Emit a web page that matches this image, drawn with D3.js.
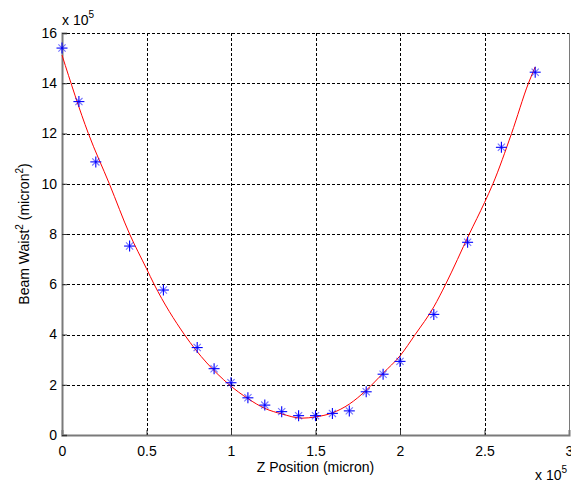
<!DOCTYPE html>
<html>
<head>
<meta charset="utf-8">
<script src="https://cdn.jsdelivr.net/npm/d3@7"></script>
<style>
  html, body { margin: 0; padding: 0; background: #fff; }
  svg { display: block; font-family: "Liberation Sans", Arial, Helvetica, sans-serif; }
</style>
</head>
<body>
<svg id="chart" width="571" height="483"></svg>
<script>
// Measured data (Z in units of 1e5 micron, waist^2 in units of 1e5 micron^2)
const zPos = [0, 0.1, 0.2, 0.4, 0.6, 0.8, 0.9, 1.0, 1.1, 1.2, 1.3, 1.4, 1.5, 1.6, 1.7, 1.8, 1.9, 2.0, 2.2, 2.4, 2.6, 2.8];
const waist2 = [15.40, 13.27, 10.87, 7.52, 5.77, 3.48, 2.64, 2.08, 1.48, 1.19, 0.93, 0.77, 0.77, 0.86, 0.96, 1.72, 2.42, 2.93, 4.80, 7.67, 11.45, 14.44];

// Fitted curve
const fitZ = [0, 0.156, 0.28, 0.40, 0.5, 0.545, 0.724, 0.99, 1.1, 1.2, 1.3, 1.42, 1.5, 1.6, 1.7, 1.8, 1.9, 2.0, 2.09, 2.2, 2.27, 2.41, 2.5, 2.55, 2.66, 2.76, 2.8];
const fitW = [15.12, 12.0, 10.0, 8.0, 6.62, 6.0, 4.0, 2.0, 1.45, 1.06, 0.84, 0.67, 0.72, 0.88, 1.23, 1.78, 2.46, 3.15, 4.0, 5.1, 6.0, 8.0, 9.25, 10.0, 12.0, 14.0, 14.65];

const xTicks = [0, 0.5, 1, 1.5, 2, 2.5, 3];
const xTickLabels = ["0", "0.5", "1", "1.5", "2", "2.5", "3"];
const yTicks = [0, 2, 4, 6, 8, 10, 12, 14, 16];
const yTickLabels = ["0", "2", "4", "6", "8", "10", "12", "14", "16"];

const xLabel = "Z Position (micron)";

const svg = d3.select("#chart");
const L = 62, R = 569, T = 33, B = 435;

const x = d3.scaleLinear().domain([0, 3]).range([L, R]);
const y = d3.scaleLinear().domain([0, 16]).range([B, T]);

// Grid
const grid = svg.append("g");
grid.selectAll("line.vg").data(xTicks.slice(1)).enter().append("line")
  .attr("x1", d => Math.round(x(d)) + 0.5).attr("x2", d => Math.round(x(d)) + 0.5)
  .attr("y1", T).attr("y2", B)
  .attr("stroke", "#000").attr("stroke-width", 1).attr("stroke-dasharray", "3,2");
grid.selectAll("line.hg").data(yTicks.slice(1)).enter().append("line")
  .attr("x1", L).attr("x2", R)
  .attr("y1", d => Math.round(y(d)) + 0.5).attr("y2", d => Math.round(y(d)) + 0.5)
  .attr("stroke", "#000").attr("stroke-width", 1).attr("stroke-dasharray", "3,2");

// Axes (ticks inside)
const xAxis = d3.axisBottom(x).tickValues(xTicks).tickSize(-5).tickPadding(11)
  .tickFormat((d, i) => xTickLabels[i]);
const gx = svg.append("g").attr("transform", `translate(0,${B})`).call(xAxis);
gx.select(".domain").attr("stroke", "#7a7a7a").attr("stroke-width", 2);
gx.selectAll(".tick line").attr("stroke", "#333");
gx.selectAll("text").attr("font-size", 14).attr("fill", "#000")
  .attr("font-family", "Liberation Sans, Arial, sans-serif");

const yAxis = d3.axisLeft(y).tickValues(yTicks).tickSize(-5).tickPadding(5)
  .tickFormat((d, i) => yTickLabels[i]);
const gy = svg.append("g").attr("transform", `translate(${L},0)`).call(yAxis);
gy.select(".domain").attr("stroke", "#7a7a7a").attr("stroke-width", 2);
gy.selectAll(".tick line").attr("stroke", "#333");
gy.selectAll("text").attr("font-size", 14).attr("fill", "#000")
  .attr("font-family", "Liberation Sans, Arial, sans-serif");

// right border
svg.append("line").attr("x1", R + 0.5).attr("x2", R + 0.5).attr("y1", T).attr("y2", B)
  .attr("stroke", "#7a7a7a").attr("stroke-width", 1);

// Fit curve
const fitData = fitZ.map((z, i) => [z, fitW[i]]);
svg.append("path").datum(fitData)
  .attr("fill", "none").attr("stroke", "#ff0000").attr("stroke-width", 1)
  .attr("d", d3.line().x(d => x(d[0])).y(d => y(d[1])).curve(d3.curveMonotoneX));

// Asterisk markers
const pts = zPos.map((z, i) => [z, waist2[i]]);
const mk = svg.append("g").selectAll("g").data(pts).enter().append("g")
  .attr("transform", d => `translate(${x(d[0])},${y(d[1])})`)
  .attr("stroke", "#0000ff").attr("stroke-width", 1.1);
const a = 5.5, b = 3.6;
mk.append("line").attr("x1", -a).attr("x2", a).attr("y1", 0).attr("y2", 0);
mk.append("line").attr("x1", 0).attr("x2", 0).attr("y1", -a).attr("y2", a);
mk.append("line").attr("x1", -b).attr("x2", b).attr("y1", -b).attr("y2", b).attr("stroke-opacity", 0.55);
mk.append("line").attr("x1", -b).attr("x2", b).attr("y1", b).attr("y2", -b).attr("stroke-opacity", 0.55);

// Labels
svg.append("text").attr("x", (L + R) / 2).attr("y", 472).attr("text-anchor", "middle")
  .attr("font-size", 14).text(xLabel);

const yl = svg.append("text").attr("transform", `translate(29,${(T + B) / 2}) rotate(-90)`)
  .attr("text-anchor", "middle").attr("font-size", 14);
yl.append("tspan").text("Beam Waist");
yl.append("tspan").attr("font-size", 10).attr("dy", -6).text("2");
yl.append("tspan").attr("dy", 6).text(" (micron");
yl.append("tspan").attr("font-size", 10).attr("dy", -6).text("2");
yl.append("tspan").attr("dy", 6).text(")");

// Exponent labels
const e1 = svg.append("text").attr("x", 62).attr("y", 25).attr("font-size", 14);
e1.append("tspan").text("x 10");
e1.append("tspan").attr("font-size", 10).attr("dy", -7).text("5");

const e2 = svg.append("text").attr("x", 535).attr("y", 480).attr("font-size", 14);
e2.append("tspan").text("x 10");
e2.append("tspan").attr("font-size", 10).attr("dy", -7).text("5");
</script>
</body>
</html>
